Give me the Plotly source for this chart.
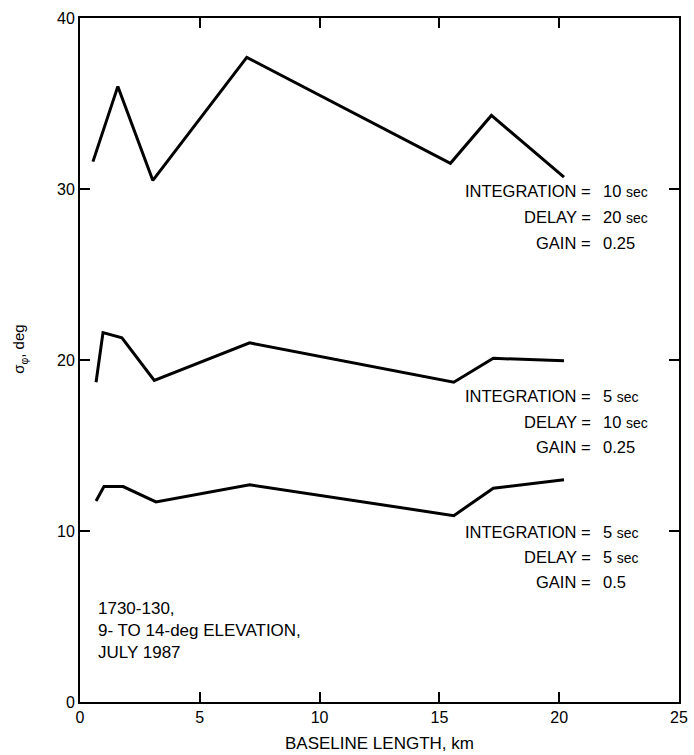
import plotly.graph_objects as go

# Data
x_top = [0.54, 1.58, 3.04, 6.96, 15.46, 17.17, 20.2]
y_top = [31.6, 36.0, 30.5, 37.7, 31.5, 34.3, 30.7]

x_mid = [0.67, 0.96, 1.75, 3.1, 7.08, 15.6, 17.25, 20.2]
y_mid = [18.7, 21.6, 21.3, 18.8, 21.0, 18.7, 20.1, 19.95]

x_bot = [0.67, 1.0, 1.8, 3.17, 7.08, 15.6, 17.25, 20.2]
y_bot = [11.75, 12.6, 12.6, 11.7, 12.7, 10.9, 12.5, 13.0]

x_ticks = [0, 5, 10, 15, 20, 25]
y_ticks = [0, 10, 20, 30, 40]

SEC = "<span style='font-size:14px'>sec</span>"
# Parameter labels: (label, value, y position)
labels_top = [("INTEGRATION =", "10 " + SEC, 29.9), ("DELAY =", "20 " + SEC, 28.35), ("GAIN =", "0.25", 26.85)]
labels_mid = [("INTEGRATION =", "5 " + SEC, 17.9), ("DELAY =", "10 " + SEC, 16.4), ("GAIN =", "0.25", 14.9)]
labels_bot = [("INTEGRATION =", "5 " + SEC, 9.95), ("DELAY =", "5 " + SEC, 8.5), ("GAIN =", "0.5", 7.0)]

FONT = "Liberation Sans, Arial, sans-serif"

fig = go.Figure()
for xs, ys in [(x_top, y_top), (x_mid, y_mid), (x_bot, y_bot)]:
    fig.add_trace(go.Scatter(x=xs, y=ys, mode="lines",
                             line=dict(color="black", width=3),
                             showlegend=False, hoverinfo="skip"))

annotations = []
for group in (labels_top, labels_mid, labels_bot):
    for lab, val, yy in group:
        annotations.append(dict(x=21.4, y=yy, xref="x", yref="y", text=lab,
                                showarrow=False, xanchor="right", yanchor="middle",
                                font=dict(size=16.5, color="black", family=FONT)))
        annotations.append(dict(x=21.75, y=yy, xref="x", yref="y", text=val,
                                showarrow=False, xanchor="left", yanchor="middle",
                                font=dict(size=16.5, color="black", family=FONT)))

annotations.append(dict(x=0.68, y=4.2, xref="x", yref="y",
                        text="1730-130,<br>9- TO 14-deg ELEVATION,<br>JULY 1987",
                        showarrow=False, xanchor="left", yanchor="middle", align="left",
                        font=dict(size=17, color="black", family=FONT)))

annotations.append(dict(x=-0.1, y=0.515, xref="paper", yref="paper",
                        text="σ<sub>φ</sub>, deg", textangle=-90,
                        showarrow=False, xanchor="center", yanchor="middle",
                        font=dict(size=15, color="black", family=FONT)))

annotations.append(dict(x=0.5, y=-0.06, xref="paper", yref="paper",
                        text="BASELINE LENGTH, km",
                        showarrow=False, xanchor="center", yanchor="middle",
                        font=dict(size=17, color="black", family=FONT)))

fig.update_layout(
    width=694, height=755,
    margin=dict(l=80, r=15, t=18, b=53),
    paper_bgcolor="white", plot_bgcolor="white",
    font=dict(family=FONT, size=16, color="black"),
    annotations=annotations,
    xaxis=dict(range=[0, 25], tickvals=x_ticks, ticktext=[str(v) for v in x_ticks],
               ticks="inside", ticklen=10, tickwidth=1.5, tickcolor="black",
               showline=True, linecolor="black", linewidth=2, mirror="ticks",
               showgrid=False, zeroline=False, automargin=False),
    yaxis=dict(range=[0, 40], tickvals=y_ticks, ticktext=[str(v) for v in y_ticks],
               ticks="inside", ticklen=10, tickwidth=1.5, tickcolor="black",
               showline=True, linecolor="black", linewidth=2, mirror="ticks",
               showgrid=False, zeroline=False, automargin=False),
)

fig.write_html("out.html",
               config={"displayModeBar": False},
               post_script="document.body.style.margin='0';document.body.style.overflow='hidden';")
